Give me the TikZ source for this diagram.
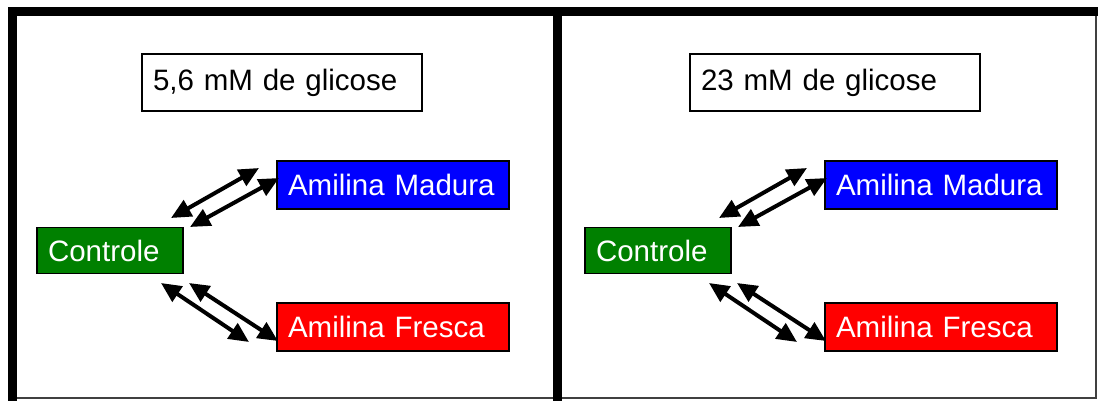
\documentclass[tikz,border=0pt]{standalone}
\usepackage{fontspec}
\setmainfont{Liberation Sans}
\usetikzlibrary{arrows.meta}
\definecolor{boxgreen}{RGB}{0,128,0}
\definecolor{boxblue}{RGB}{0,0,255}
\definecolor{boxred}{RGB}{255,0,0}
\tikzset{
  lbl/.style={draw=black, line width=1.3pt, text=white, font=\fontsize{29.5}{31}\selectfont,
    inner xsep=11pt, inner ysep=0pt, align=left, anchor=center},
  gbox/.style={draw=black, line width=1.3pt, fill=white, font=\fontsize{29.5}{31}\selectfont,
    inner xsep=11pt, inner ysep=0pt, align=left, text=black},
  dbl/.style={line width=4pt, {Triangle[length=20pt,width=18pt]}-{Triangle[length=20pt,width=18pt]}},
  thick frame/.style={line width=9pt, line cap=rect},
  thin frame/.style={line width=1.2pt, draw=black!75}
}
\begin{document}
\begin{tikzpicture}[x=1pt,y=-1pt]
\useasboundingbox (0,0) rectangle (1100,400);
% frames
\draw[thin frame] (12.5,398) -- (1096,398) -- (1096,11.5);
\draw[thick frame] (12.5,398) -- (12.5,11.5) -- (1093,11.5);
\draw[thick frame] (557.5,11.5) -- (557.5,400);

% left panel
\node[gbox, minimum width=280pt, minimum height=57pt, text width=258pt] (g1) at (282,82.5) {5,6 mM de glicose};
\node[lbl, fill=boxgreen, minimum width=146pt, minimum height=46pt, text width=124pt] (c1) at (110,250.5) {Controle};
\node[lbl, fill=boxblue, minimum width=232pt, minimum height=48pt, text width=210pt] (m1) at (393,185) {Amilina Madura};
\node[lbl, fill=boxred, minimum width=232pt, minimum height=48pt, text width=210pt] (f1) at (393,327) {Amilina Fresca};

\coordinate (a1s) at (171,218); \coordinate (a1e) at (259,168);
\coordinate (a2s) at (190,227); \coordinate (a2e) at (279,178);
\coordinate (a3s) at (161,283); \coordinate (a3e) at (249,342);
\coordinate (a4s) at (189,283); \coordinate (a4e) at (278,341);
\draw[dbl] (a1s) -- (a1e);
\draw[dbl] (a2s) -- (a2e);
\draw[dbl] (a3s) -- (a3e);
\draw[dbl] (a4s) -- (a4e);

% right panel
\node[gbox, minimum width=290pt, minimum height=57pt, text width=268pt] (g2) at (835,82.5) {23 mM de glicose};
\node[lbl, fill=boxgreen, minimum width=146pt, minimum height=46pt, text width=124pt] (c2) at (658,250.5) {Controle};
\node[lbl, fill=boxblue, minimum width=232pt, minimum height=48pt, text width=210pt] (m2) at (941,185) {Amilina Madura};
\node[lbl, fill=boxred, minimum width=232pt, minimum height=48pt, text width=210pt] (f2) at (941,327) {Amilina Fresca};

\coordinate (b1s) at (719,218); \coordinate (b1e) at (807,168);
\coordinate (b2s) at (738,227); \coordinate (b2e) at (827,178);
\coordinate (b3s) at (709,283); \coordinate (b3e) at (797,342);
\coordinate (b4s) at (737,283); \coordinate (b4e) at (826,341);
\draw[dbl] (b1s) -- (b1e);
\draw[dbl] (b2s) -- (b2e);
\draw[dbl] (b3s) -- (b3e);
\draw[dbl] (b4s) -- (b4e);
\end{tikzpicture}
\end{document}
